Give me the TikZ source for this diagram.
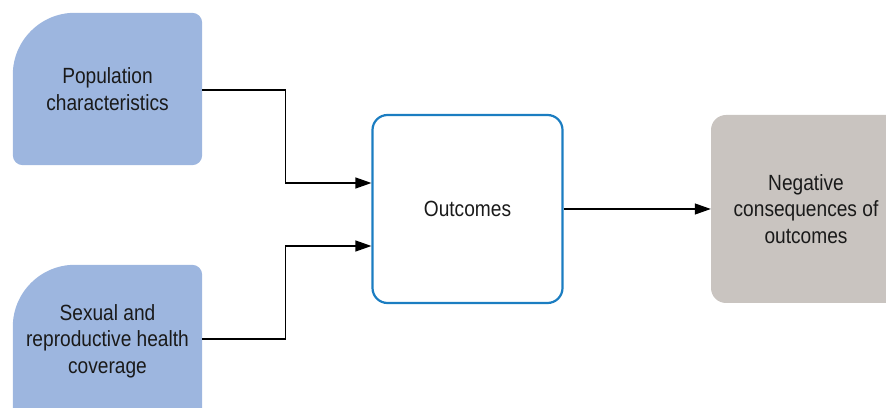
\documentclass[tikz,border=0pt]{standalone}
\usepackage{fontspec}
\setmainfont{Liberation Sans}[FakeStretch=0.87]
\usetikzlibrary{arrows.meta,backgrounds}
\definecolor{bluefill}{HTML}{9DB6DF}
\definecolor{grayfill}{HTML}{C9C4C0}
\definecolor{blueline}{HTML}{1B7DC1}
\definecolor{txt}{HTML}{1A1A1A}
\begin{document}
\begin{tikzpicture}[x=1pt,y=1pt,
  lbl/.style={align=center,text=txt,font=\fontsize{22}{26.5}\selectfont,inner sep=0pt},
  leftbox/.style={lbl,minimum width=189pt,minimum height=152pt},
  midbox/.style={lbl,minimum width=190pt,minimum height=188pt,draw=blueline,line width=2.2pt,rounded corners=15pt},
  rightbox/.style={lbl,minimum width=190pt,minimum height=188pt,fill=grayfill,rounded corners=15pt},
  arr/.style={line width=1.2pt,-{Triangle[length=16pt,width=11pt]}}]
\useasboundingbox (0,0) rectangle (886,407);
\clip (0,0) rectangle (886,407);
\node[leftbox] (pop) at (107.5,318) {Population\\characteristics};
\node[leftbox] (srh) at (107.5,66) {Sexual and\\reproductive health\\coverage};
\node[midbox] (out) at (467.5,198) {Outcomes};
\node[rightbox] (neg) at (806,198) {Negative\\consequences of\\outcomes};
\begin{scope}[on background layer]
\foreach \n in {pop,srh}{
  \fill[bluefill] ([yshift=10pt]\n.south west) -- ([yshift=-62pt]\n.north west)
    arc[start angle=180,end angle=90,radius=62pt] -- ([xshift=-10pt]\n.north east)
    arc[start angle=90,end angle=0,radius=10pt] -- ([yshift=10pt]\n.south east)
    arc[start angle=0,end angle=-90,radius=10pt] -- ([xshift=10pt]\n.south west)
    arc[start angle=270,end angle=180,radius=10pt] -- cycle;
}
\end{scope}
\draw[arr] ([yshift=-1pt]pop.east) -- ++(83,0) |- ([yshift=26pt]out.west);
\draw[arr] ([yshift=2pt]srh.east) -- ++(83,0) |- ([yshift=-37pt]out.west);
\draw[arr] (out.east) -- (neg.west);
\end{tikzpicture}
\end{document}
